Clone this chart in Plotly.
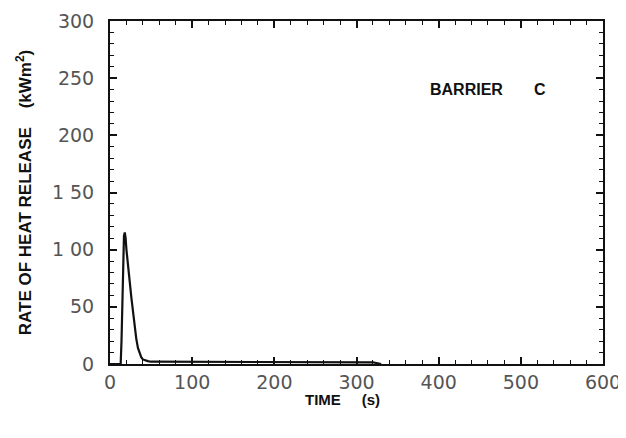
import plotly.graph_objects as go

time_s = [0, 12, 13, 14, 15, 16, 17, 18, 19, 20, 22, 24, 26, 28, 30, 32, 34, 36, 38, 40, 43, 46, 50,
          55, 60, 70, 80, 90, 100, 110, 120, 130, 140, 150, 160, 170, 180, 190, 200,
          210, 220, 230, 240, 250, 260, 270, 280, 290, 300, 310, 320, 330]
hrr = [0, 0, 0, 20, 60, 100, 112, 115, 110, 100, 88, 72, 58, 44, 32, 22, 14, 9, 6, 4, 3, 2.5, 2,
       2, 2, 2, 1.5, 2, 1.5, 1.5, 2, 1.5, 1.5, 2, 1.5, 1.5, 1.5, 1.5, 1.5,
       1.5, 1.5, 1.5, 1.5, 1.5, 1.5, 1.5, 1.5, 1.5, 1.5, 1.5, 1.5, 0]

x_ticks = [0, 100, 200, 300, 400, 500, 600]
y_ticks = [0, 50, 100, 150, 200, 250, 300]
y_tick_text = ["0", "50", "1 00", "1 50", "200", "250", "300"]
label_text = "BARRIER&nbsp;&nbsp;&nbsp;&nbsp;&nbsp;&nbsp;&nbsp;C"
x_title = "TIME&nbsp;&nbsp;&nbsp;&nbsp;&nbsp;(s)"
y_title = "RATE OF HEAT RELEASE&nbsp;&nbsp;&nbsp;&nbsp;(kWm<sup>2</sup>)"

fig = go.Figure()
fig.add_trace(go.Scatter(x=time_s, y=hrr, mode="lines",
                         line=dict(color="#111", width=2.2), showlegend=False))

fig.add_annotation(x=387, y=240, xref="x", yref="y", text="<b>" + label_text + "</b>",
                   showarrow=False, xanchor="left", yanchor="middle",
                   font=dict(family="Liberation Sans", size=16, color="#111"))

fig.add_annotation(x=0.472, y=-0.104, xref="paper", yref="paper", text="<b>" + x_title + "</b>",
                   showarrow=False, xanchor="center", yanchor="middle",
                   font=dict(family="Liberation Sans", size=15, color="#111"))

axis_common = dict(showgrid=False, zeroline=False, showline=True, linecolor="#111",
                   linewidth=2, mirror="ticks", ticks="inside", ticklen=7, tickwidth=1.5,
                   tickcolor="#111", automargin=False,
                   tickfont=dict(family="DejaVu Sans", size=19, color="#555"))

fig.update_xaxes(range=[0, 600], tickvals=x_ticks, ticktext=[str(v) for v in x_ticks],
                 ticklabelstandoff=0,
                 minor=dict(ticks="inside", ticklen=4, dtick=20, tickcolor="#111", tickwidth=1),
                 **axis_common)
fig.update_yaxes(range=[0, 300], tickvals=y_ticks, ticktext=y_tick_text,
                 ticklabelstandoff=10,
                 minor=dict(ticks="inside", ticklen=4, dtick=10, tickcolor="#111", tickwidth=1),
                 title=dict(text="<b>" + y_title + "</b>",
                            standoff=16,
                            font=dict(family="Liberation Sans", size=17, color="#111")),
                 **axis_common)

fig.update_layout(width=618, height=430, margin=dict(l=102, r=23, t=13, b=74),
                  plot_bgcolor="white", paper_bgcolor="white")

fig.write_html("out.html")
